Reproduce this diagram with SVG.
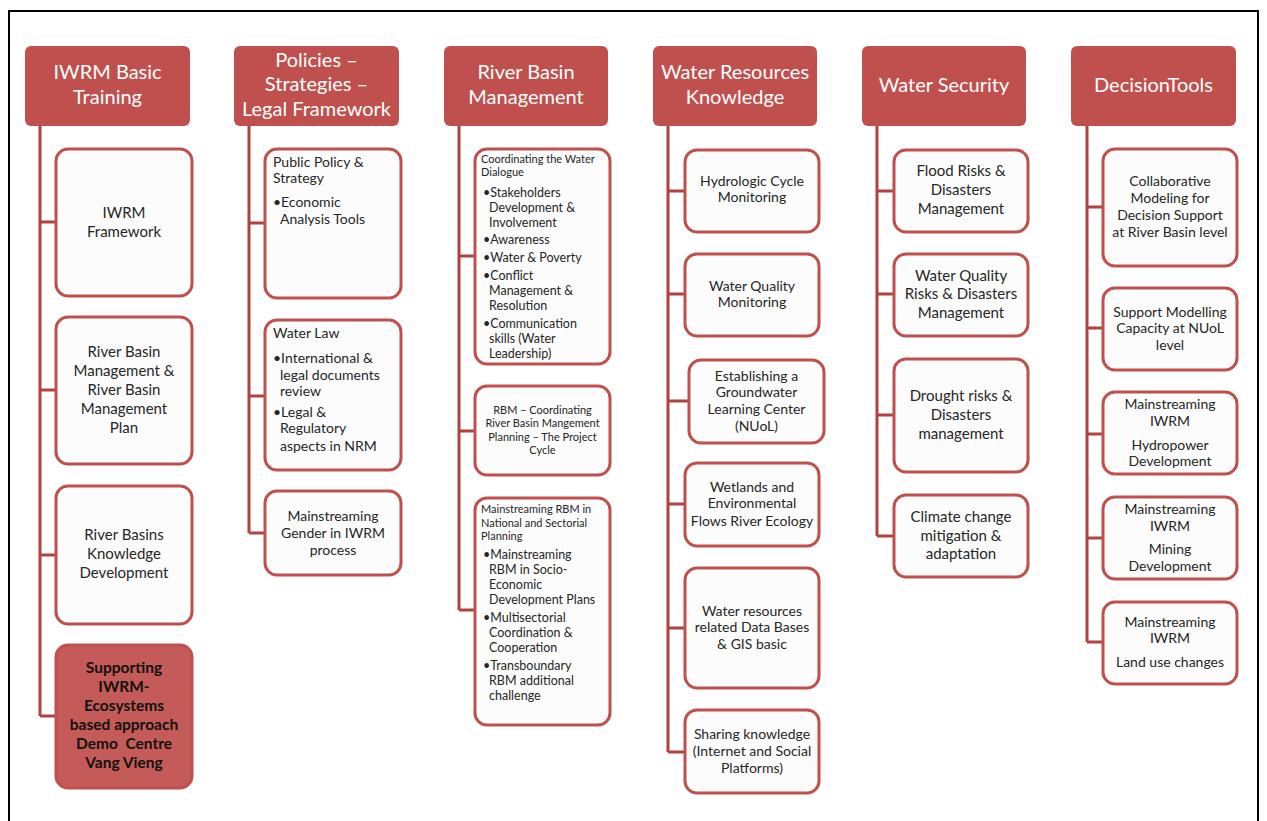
<svg xmlns="http://www.w3.org/2000/svg" width="1267" height="821" viewBox="0 0 1267 821">
<style>
.hdr{fill:#C0504D;}
.ht{font-family:Lato,"Liberation Sans",sans-serif;font-size:20px;fill:#FFFFFF;text-anchor:middle;}
.box{fill:#FCFCFC;stroke:#C0504D;stroke-width:3;}
.hl{fill:#C55B58;stroke:#C0504D;stroke-width:3;}
.t{font-family:Lato,"Liberation Sans",sans-serif;font-size:15px;fill:#262626;text-anchor:middle;}
.tb{font-family:Lato,"Liberation Sans",sans-serif;font-size:15.5px;fill:#111111;text-anchor:middle;font-weight:bold;}
.tl{font-family:Lato,"Liberation Sans",sans-serif;font-size:14px;fill:#262626;}
.ts{font-family:Lato,"Liberation Sans",sans-serif;font-size:11px;fill:#262626;}
.tm{font-family:Lato,"Liberation Sans",sans-serif;font-size:12.5px;fill:#262626;}
.tc{font-family:Lato,"Liberation Sans",sans-serif;font-size:14px;fill:#262626;text-anchor:middle;}
.tsc{font-family:Lato,"Liberation Sans",sans-serif;font-size:11px;fill:#262626;text-anchor:middle;}
.conn{fill:none;stroke:#B04240;stroke-width:3;}
</style>
<rect x="0" y="0" width="1267" height="821" fill="#FFFFFF"/>
<rect x="9" y="11" width="1249" height="820" fill="none" stroke="#000000" stroke-width="2"/>

<g id="connectors">
<path class="conn" d="M40,126 V716 M40,222 H56 M40,390 H56 M40,555 H56 M40,716 H56"/>
<path class="conn" d="M249,126 V533 M249,223 H265 M249,396 H265 M249,533 H265"/>
<path class="conn" d="M459,126 V610 M459,256 H475 M459,431 H475 M459,610 H475"/>
<path class="conn" d="M668,126 V752 M668,191 H684 M668,294 H684 M668,401 H689 M668,504 H684 M668,628 H684 M668,752 H684"/>
<path class="conn" d="M877,126 V536 M877,191 H894 M877,294 H894 M877,415 H894 M877,536 H894"/>
<path class="conn" d="M1087,126 V642 M1087,207 H1103 M1087,328 H1103 M1087,434 H1103 M1087,538 H1103 M1087,642 H1103"/>
</g>

<g id="h1"><rect class="hdr" x="25" y="46" width="165" height="80" rx="6"/>
<text class="ht" x="107.5" y="79">IWRM Basic</text><text class="ht" x="107.5" y="104">Training</text></g>
<g id="h2"><rect class="hdr" x="234" y="46" width="165" height="80" rx="6"/>
<text class="ht" x="316.5" y="67">Policies –</text><text class="ht" x="316.5" y="91">Strategies –</text><text class="ht" x="316.5" y="116">Legal Framework</text></g>
<g id="h3"><rect class="hdr" x="444" y="46" width="164" height="80" rx="6"/>
<text class="ht" x="526" y="79">River Basin</text><text class="ht" x="526" y="104">Management</text></g>
<g id="h4"><rect class="hdr" x="653" y="46" width="164" height="80" rx="6"/>
<text class="ht" x="735" y="79">Water Resources</text><text class="ht" x="735" y="104">Knowledge</text></g>
<g id="h5"><rect class="hdr" x="862" y="46" width="164" height="80" rx="6"/>
<text class="ht" x="944" y="92">Water Security</text></g>
<g id="h6"><rect class="hdr" x="1071" y="46" width="165" height="80" rx="6"/>
<text class="ht" x="1153.5" y="92">DecisionTools</text></g>

<!-- Column 1 -->
<g id="c1a"><rect class="box" x="56" y="149" width="136" height="147" rx="12"/>
<text class="t" x="124" y="218">IWRM</text><text class="t" x="124" y="237">Framework</text></g>
<g id="c1b"><rect class="box" x="56" y="317" width="136" height="147" rx="12"/>
<text class="t" x="124" y="357">River Basin</text><text class="t" x="124" y="376">Management &amp;</text><text class="t" x="124" y="395">River Basin</text><text class="t" x="124" y="414">Management</text><text class="t" x="124" y="433">Plan</text></g>
<g id="c1c"><rect class="box" x="56" y="486" width="136" height="138" rx="12"/>
<text class="t" x="124" y="540">River Basins</text><text class="t" x="124" y="559">Knowledge</text><text class="t" x="124" y="578">Development</text></g>
<g id="c1d"><rect class="hl" x="56" y="645" width="136" height="143" rx="12"/>
<text class="tb" x="124" y="673">Supporting</text><text class="tb" x="124" y="692">IWRM-</text><text class="tb" x="124" y="711">Ecosystems</text><text class="tb" x="124" y="730">based approach</text><text class="tb" x="124" y="749" xml:space="preserve">Demo  Centre</text><text class="tb" x="124" y="768">Vang Vieng</text></g>

<!-- Column 2 -->
<g id="c2a"><rect class="box" x="265" y="149" width="136" height="149" rx="12"/>
<text class="tl" x="273" y="167">Public Policy &amp;</text><text class="tl" x="273" y="183">Strategy</text>
<text class="tl" x="273" y="207">•Economic</text><text class="tl" x="280" y="224">Analysis Tools</text></g>
<g id="c2b"><rect class="box" x="265" y="320" width="136" height="150" rx="12"/>
<text class="tl" x="273" y="338">Water Law</text>
<text class="tl" x="273" y="363">•International &amp;</text><text class="tl" x="280" y="380">legal documents</text><text class="tl" x="280" y="396">review</text>
<text class="tl" x="273" y="417">•Legal &amp;</text><text class="tl" x="280" y="433">Regulatory</text><text class="tl" x="280" y="451">aspects in NRM</text></g>
<g id="c2c"><rect class="box" x="265" y="491" width="136" height="84" rx="12"/>
<text class="tc" x="333" y="521">Mainstreaming</text><text class="tc" x="333" y="538">Gender in IWRM</text><text class="tc" x="333" y="555">process</text></g>

<!-- Column 3 -->
<g id="c3a"><rect class="box" x="475" y="149" width="135" height="215" rx="12"/>
<text class="ts" x="481" y="163">Coordinating the Water</text><text class="ts" x="481" y="176">Dialogue</text>
<text class="tm" x="483" y="197">•Stakeholders</text><text class="tm" x="489" y="212">Development &amp;</text><text class="tm" x="489" y="227">Involvement</text>
<text class="tm" x="483" y="244">•Awareness</text>
<text class="tm" x="483" y="262">•Water &amp; Poverty</text>
<text class="tm" x="483" y="280">•Conflict</text><text class="tm" x="489" y="295">Management &amp;</text><text class="tm" x="489" y="310">Resolution</text>
<text class="tm" x="483" y="328">•Communication</text><text class="tm" x="489" y="343">skills (Water</text><text class="tm" x="489" y="358">Leadership)</text></g>
<g id="c3b"><rect class="box" x="475" y="386" width="135" height="89" rx="12"/>
<text class="tsc" x="542.5" y="414">RBM – Coordinating</text><text class="tsc" x="542.5" y="427">River Basin Mangement</text><text class="tsc" x="542.5" y="441">Planning – The Project</text><text class="tsc" x="542.5" y="454">Cycle</text></g>
<g id="c3c"><rect class="box" x="475" y="498" width="135" height="227" rx="12"/>
<text class="ts" x="481" y="513">Mainstreaming RBM in</text><text class="ts" x="481" y="527">National and Sectorial</text><text class="ts" x="481" y="540">Planning</text>
<text class="tm" x="483" y="559">•Mainstreaming</text><text class="tm" x="489" y="574">RBM in Socio-</text><text class="tm" x="489" y="589">Economic</text><text class="tm" x="489" y="604">Development Plans</text>
<text class="tm" x="483" y="622">•Multisectorial</text><text class="tm" x="489" y="637">Coordination &amp;</text><text class="tm" x="489" y="652">Cooperation</text>
<text class="tm" x="483" y="670">•Transboundary</text><text class="tm" x="489" y="685">RBM additional</text><text class="tm" x="489" y="700">challenge</text></g>

<!-- Column 4 -->
<g id="c4a"><rect class="box" x="685" y="150" width="134" height="82" rx="12"/>
<text class="tc" x="752" y="186">Hydrologic Cycle</text><text class="tc" x="752" y="202">Monitoring</text></g>
<g id="c4b"><rect class="box" x="685" y="254" width="134" height="82" rx="12"/>
<text class="tc" x="752" y="291">Water Quality</text><text class="tc" x="752" y="307">Monitoring</text></g>
<g id="c4c"><rect class="box" x="689" y="360" width="135" height="83" rx="12"/>
<text class="tc" x="756.5" y="381">Establishing a</text><text class="tc" x="756.5" y="397">Groundwater</text><text class="tc" x="756.5" y="414">Learning Center</text><text class="tc" x="756.5" y="431">(NUoL)</text></g>
<g id="c4d"><rect class="box" x="685" y="463" width="134" height="83" rx="12"/>
<text class="tc" x="752" y="492">Wetlands and</text><text class="tc" x="752" y="508">Environmental</text><text class="tc" x="752" y="526">Flows River Ecology</text></g>
<g id="c4e"><rect class="box" x="685" y="568" width="134" height="120" rx="12"/>
<text class="tc" x="752" y="616">Water resources</text><text class="tc" x="752" y="632">related Data Bases</text><text class="tc" x="752" y="649">&amp; GIS basic</text></g>
<g id="c4f"><rect class="box" x="685" y="710" width="134" height="83" rx="12"/>
<text class="tc" x="752" y="739">Sharing knowledge</text><text class="tc" x="752" y="756">(Internet and Social</text><text class="tc" x="752" y="773">Platforms)</text></g>

<!-- Column 5 -->
<g id="c5a"><rect class="box" x="894" y="150" width="134" height="82" rx="12"/>
<text class="t" x="961" y="176">Flood Risks &amp;</text><text class="t" x="961" y="195">Disasters</text><text class="t" x="961" y="214">Management</text></g>
<g id="c5b"><rect class="box" x="894" y="254" width="134" height="82" rx="12"/>
<text class="t" x="961" y="281">Water Quality</text><text class="t" x="961" y="299">Risks &amp; Disasters</text><text class="t" x="961" y="318">Management</text></g>
<g id="c5c"><rect class="box" x="894" y="359" width="134" height="113" rx="12"/>
<text class="t" x="961" y="401">Drought risks &amp;</text><text class="t" x="961" y="420">Disasters</text><text class="t" x="961" y="439">management</text></g>
<g id="c5d"><rect class="box" x="894" y="495" width="134" height="82" rx="12"/>
<text class="t" x="961" y="522">Climate change</text><text class="t" x="961" y="541">mitigation &amp;</text><text class="t" x="961" y="559">adaptation</text></g>

<!-- Column 6 -->
<g id="c6a"><rect class="box" x="1103" y="149" width="134" height="117" rx="12"/>
<text class="tc" x="1170" y="186">Collaborative</text><text class="tc" x="1170" y="203">Modeling for</text><text class="tc" x="1170" y="220">Decision Support</text><text class="tc" x="1170" y="237">at River Basin level</text></g>
<g id="c6b"><rect class="box" x="1103" y="288" width="134" height="82" rx="12"/>
<text class="tc" x="1170" y="317">Support Modelling</text><text class="tc" x="1170" y="333">Capacity at NUoL</text><text class="tc" x="1170" y="350">level</text></g>
<g id="c6c"><rect class="box" x="1103" y="392" width="134" height="82" rx="12"/>
<text class="tc" x="1170" y="409">Mainstreaming</text><text class="tc" x="1170" y="426">IWRM</text><text class="tc" x="1170" y="450">Hydropower</text><text class="tc" x="1170" y="466">Development</text></g>
<g id="c6d"><rect class="box" x="1103" y="497" width="134" height="82" rx="12"/>
<text class="tc" x="1170" y="514">Mainstreaming</text><text class="tc" x="1170" y="531">IWRM</text><text class="tc" x="1170" y="554">Mining</text><text class="tc" x="1170" y="571">Development</text></g>
<g id="c6e"><rect class="box" x="1103" y="602" width="134" height="82" rx="12"/>
<text class="tc" x="1170" y="627">Mainstreaming</text><text class="tc" x="1170" y="643">IWRM</text><text class="tc" x="1170" y="667">Land use changes</text></g>
</svg>
